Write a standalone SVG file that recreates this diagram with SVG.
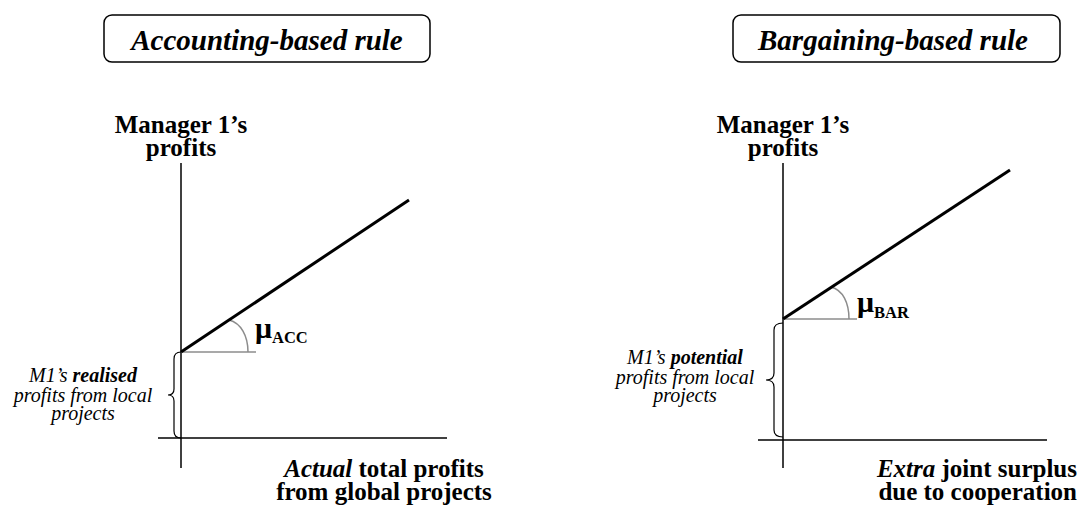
<svg xmlns="http://www.w3.org/2000/svg" width="1080" height="511" viewBox="0 0 1080 511">
<style>
.title{font-family:"Liberation Serif","Times New Roman",serif;font-size:29px;font-weight:bold;font-style:italic;text-anchor:middle;fill:#000}
.lbl{font-family:"Liberation Serif","Times New Roman",serif;font-size:25px;font-weight:bold;text-anchor:middle;fill:#000}
.lblr{font-family:"Liberation Serif","Times New Roman",serif;font-size:25px;font-weight:bold;text-anchor:end;fill:#000}
.note{font-family:"Liberation Serif","Times New Roman",serif;font-size:20px;font-style:italic;text-anchor:middle;fill:#000}
.mu{font-family:"Liberation Serif","Times New Roman",serif;font-size:30px;font-weight:bold;fill:#000}
.sub{font-size:16.5px}
.box{fill:#fff;stroke:#000;stroke-width:1.5}
.axis{stroke:#000;stroke-width:1.5;fill:none}
.curve{stroke:#000;stroke-width:3;fill:none}
.ref{stroke:#8c8c8c;stroke-width:1.5;fill:none}
.brace{stroke:#000;stroke-width:1.2;fill:none}
</style>
<rect width="1080" height="511" fill="#fff"/>
<g id="title-acc">
<rect class="box" x="104" y="15" width="326" height="47" rx="8"/>
<text class="title" x="267" y="50">Accounting-based rule</text>
</g>
<g id="title-bar">
<rect class="box" x="733" y="15" width="327" height="47" rx="8"/>
<text class="title" x="893" y="50">Bargaining-based rule</text>
</g>
<g id="ylabel-acc">
<text class="lbl" x="181" y="133">Manager 1’s</text>
<text class="lbl" x="181" y="156">profits</text>
</g>
<g id="ylabel-bar">
<text class="lbl" x="783" y="133">Manager 1’s</text>
<text class="lbl" x="783" y="156">profits</text>
</g>
<g id="connectors">
<line class="axis" x1="181" y1="163" x2="181" y2="468"/>
<line class="axis" x1="158" y1="438" x2="447" y2="438"/>
<line class="ref" x1="181" y1="352" x2="256" y2="352"/>
<path class="ref" d="M229,320 C241,323 248,336 248,352"/>
<line class="curve" x1="181" y1="352" x2="409" y2="200"/>
<path class="brace" d="M181,352 Q174,352 174,359 L174,389 Q174,395 168,395 Q174,395 174,401 L174,431 Q174,438 181,438"/>
<line class="axis" x1="783" y1="163" x2="783" y2="468"/>
<line class="axis" x1="758" y1="440" x2="1047" y2="440"/>
<line class="ref" x1="783" y1="319" x2="857" y2="319"/>
<path class="ref" d="M831,287 C843,290 849,303 849,319"/>
<line class="curve" x1="783" y1="319" x2="1010" y2="170"/>
<path class="brace" d="M783,323 Q774,323 774,330 L774,373 Q774,380 766,380 Q774,380 774,387 L774,430 Q774,437 783,437"/>
</g>
<g id="mu-acc">
<text class="mu" x="255" y="338">μ<tspan class="sub" dy="5">ACC</tspan></text>
</g>
<g id="mu-bar">
<text class="mu" x="857" y="312">μ<tspan class="sub" dy="6">BAR</tspan></text>
</g>
<g id="note-acc">
<text class="note" x="83" y="382">M1’s <tspan font-weight="bold">realised</tspan></text>
<text class="note" x="83" y="402">profits from local</text>
<text class="note" x="83" y="420">projects</text>
</g>
<g id="note-bar">
<text class="note" x="685" y="364">M1’s <tspan font-weight="bold">potential</tspan></text>
<text class="note" x="685" y="384">profits from local</text>
<text class="note" x="685" y="402">projects</text>
</g>
<g id="xlabel-acc">
<text class="lbl" x="384" y="477"><tspan font-style="italic">Actual</tspan> total profits</text>
<text class="lbl" x="384" y="500">from global projects</text>
</g>
<g id="xlabel-bar">
<text class="lblr" x="1077" y="477"><tspan font-style="italic">Extra</tspan> joint surplus</text>
<text class="lblr" x="1077" y="500">due to cooperation</text>
</g>
</svg>
